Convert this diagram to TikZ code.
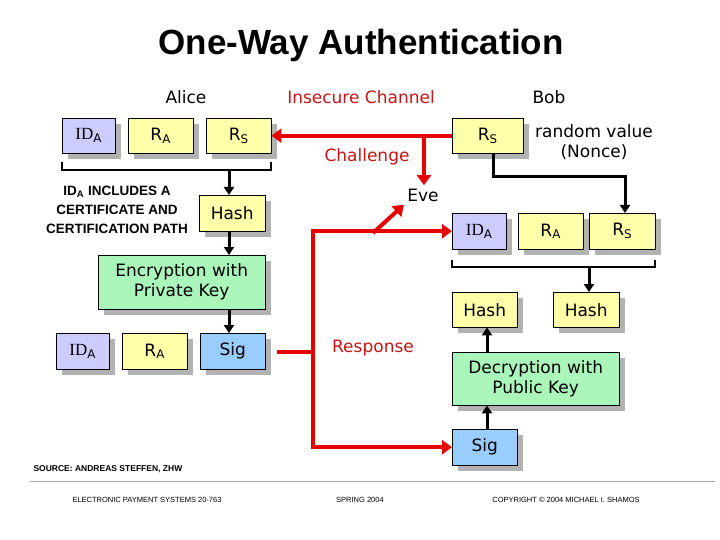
\documentclass[tikz,border=0pt]{standalone}
\usepackage{fontspec}
\setmainfont{DejaVu Sans}
\newfontfamily\arialf{Liberation Sans}
\newfontfamily\timesf{Liberation Serif}
\usetikzlibrary{arrows.meta}
\definecolor{boxpurple}{RGB}{204,204,255}
\definecolor{boxyellow}{RGB}{255,255,170}
\definecolor{boxgreen}{RGB}{170,245,185}
\definecolor{boxblue}{RGB}{153,204,255}
\definecolor{chanred}{RGB}{230,0,0}
\definecolor{labred}{RGB}{200,20,20}
\newcommand{\idA}{{\timesf ID}\textsubscript{A}}
\newcommand{\rA}{R\textsubscript{A}}
\newcommand{\rS}{R\textsubscript{S}}
\tikzset{
  x=1pt, y=-1pt,
  box/.style={draw=black, thin, inner sep=0pt, font=\fontsize{17}{20}\selectfont,
    align=center},
  blk/.style={line width=3pt, -{Triangle[length=8pt,width=10pt]}},
  red/.style={chanred, line width=4pt, line join=miter, -{Triangle[length=10pt,width=14pt]}},
  brk/.style={line width=2pt},
  lab/.style={font=\fontsize{17}{20}\selectfont, align=center},
}
% box: name, x1, y1, x2, y2, colour, text
\newcommand{\mybox}[7]{%
  \fill[gray!60] (#2+6,#3+6) rectangle (#4+6,#5+6);
  \node[box, fill=#6, minimum width=#4-#2, minimum height=#5-#3, anchor=north west]
    (#1) at (#2,#3) {#7};}
\begin{document}
\begin{tikzpicture}
\useasboundingbox (0,0) rectangle (720,540);
% title and headers
\node[font=\arialf\bfseries\fontsize{35}{40}\selectfont] (title) at (361,45) {One-Way Authentication};
\node[lab] (alice) at (186,97) {Alice};
\node[lab, labred] (chan) at (361,97) {Insecure Channel};
\node[lab] (bob) at (549,97) {Bob};
% Alice
\mybox{ia}{62}{118}{115}{153}{boxpurple}{\idA}
\mybox{ra}{128}{118}{193}{153}{boxyellow}{\rA}
\mybox{rsa}{206}{118}{271}{153}{boxyellow}{\rS}
\draw[brk] (62,162) -- (62,170) -- (271,170) -- (271,162);
\coordinate (ba) at (229,170);
\mybox{ha}{199}{195}{265}{231}{boxyellow}{Hash}
\node[font=\arialf\bfseries\fontsize{13.5}{19}\selectfont, align=center] (note) at (117,210)
  {ID\textsubscript{A} INCLUDES A\\CERTIFICATE AND\\CERTIFICATION PATH};
\mybox{ea}{98}{255}{265}{309}{boxgreen}{Encryption with\\Private Key}
\mybox{ib}{56}{333}{109}{369}{boxpurple}{\idA}
\mybox{rb}{122}{333}{187}{369}{boxyellow}{\rA}
\mybox{sa}{200}{333}{265}{369}{boxblue}{Sig}
\draw[blk] (ba) -- (ha.north -| ba);
\draw[blk] (ha.south -| ba) -- (ea.north -| ba);
\draw[blk] (ea.south -| ba) -- (sa.north -| ba);
% Bob
\mybox{rsb}{452}{118}{523}{153}{boxyellow}{\rS}
\node[lab] (nonce) at (594,142) {random value\\(Nonce)};
\mybox{ic}{452}{213}{506}{249}{boxpurple}{\idA}
\mybox{rc}{518}{213}{583}{249}{boxyellow}{\rA}
\mybox{rsc}{589}{213}{655}{249}{boxyellow}{\rS}
\draw[brk] (452,260) -- (452,267) -- (655,267) -- (655,260);
\coordinate (bb) at (589,267);
\mybox{hb}{452}{292}{517}{327}{boxyellow}{Hash}
\mybox{hc}{553}{292}{619}{327}{boxyellow}{Hash}
\mybox{db}{452}{352}{619}{405}{boxgreen}{Decryption with\\Public Key}
\mybox{sb}{452}{429}{517}{465}{boxblue}{Sig}
\draw[line width=3pt, -{Triangle[length=8pt,width=10pt]}] (493,153) |- (625,177) -- (625,213);
\draw[blk] (bb) -- (hc.north -| bb);
\draw[blk] (sb.north -| 487,0) -- (db.south -| 487,0);
\draw[blk] (db.north -| 487,0) -- (hb.south -| 487,0);
% channel
\node[lab, labred] (chal) at (367,157) {Challenge};
\node[lab] (eve) at (423,195) {Eve};
\draw[red] (rsb.west) -- (rsa.east);
\draw[red] (424,135) -- (eve.north -| 424,0);
\coordinate (rj) at (313,352);
\draw[red] (277,352) -- (rj) |- (ic.west);
\draw[red] (rj) |- (sb.west);
\draw[red] (373,233) -- (eve.south west);
\node[lab, labred] (resp) at (373,348) {Response};
% footer
\node[font=\arialf\bfseries\fontsize{8.5}{10}\selectfont, anchor=west] (src) at (30,469) {SOURCE: ANDREAS STEFFEN, ZHW};
\draw[gray!70, line width=1pt] (30,481) -- (715,481);
\node[font=\arialf\fontsize{7.5}{9}\selectfont] (f1) at (147,500) {ELECTRONIC PAYMENT SYSTEMS 20-763};
\node[font=\arialf\fontsize{7.5}{9}\selectfont] (f2) at (360,500) {SPRING 2004};
\node[font=\arialf\fontsize{7.5}{9}\selectfont] (f3) at (566,500) {COPYRIGHT \textcopyright{} 2004 MICHAEL I. SHAMOS};
\end{tikzpicture}
\end{document}
